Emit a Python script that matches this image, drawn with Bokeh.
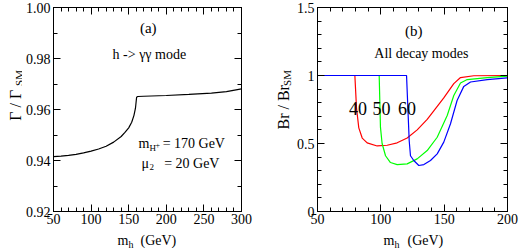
import math
from bokeh.plotting import figure
from bokeh.layouts import row, column
from bokeh.models import (LinearAxis, SingleIntervalTicker, PrintfTickFormatter, Label,
                          CustomJSTickFormatter)
from bokeh.core.properties import value
from bokeh.embed import file_html
from bokeh.resources import INLINE

FONT = "Liberation Serif"

# ---- Panel (a): Gamma / Gamma_SM for h -> gamma gamma ----
mh_a = [50, 60, 70, 80, 90, 100, 110, 120, 130, 140, 145, 150, 154, 157, 159,
        160.5, 162, 170, 200, 230, 260, 280, 300]
ratio_a = [0.9415, 0.9417, 0.9420, 0.9424, 0.9430, 0.9437, 0.9445, 0.9456, 0.9472,
           0.9494, 0.9510, 0.9528, 0.9550, 0.9577, 0.9605, 0.9648, 0.9651, 0.9652,
           0.9655, 0.9659, 0.9664, 0.9670, 0.9681]

# ---- Panel (b): Br / Br_SM, all decay modes (mu_2 = 40, 50, 60) ----
mh_40 = [50, 79.5, 80.8, 82.6, 85.3, 89.2, 97.1, 105, 112.9, 120.8, 128.7, 136.6,
         141.8, 149.7, 157.6, 162.9, 173.4, 200]
br_40 = [1.0, 1.0, 0.76, 0.615, 0.54, 0.505, 0.482, 0.487, 0.505, 0.54, 0.60, 0.677,
         0.74, 0.835, 0.94, 0.985, 0.998, 1.0]

mh_50 = [50, 98.7, 99.7, 101, 103.7, 107.6, 112.9, 120.8, 128.7, 136.6, 144.5,
         152.4, 157.6, 162.9, 168.2, 184, 200]
br_50 = [1.0, 1.0, 0.62, 0.50, 0.41, 0.36, 0.345, 0.35, 0.387, 0.448, 0.546,
         0.706, 0.853, 0.945, 0.97, 0.985, 0.995]

mh_60 = [50, 120.3, 121.3, 122.4, 123.4, 126, 130, 134, 139.2, 144.5, 149.7, 155,
         160.2, 165.5, 170.8, 184, 199.7]
br_60 = [1.0, 1.0, 0.77, 0.52, 0.41, 0.375, 0.338, 0.345, 0.375, 0.424, 0.51, 0.645,
         0.816, 0.92, 0.952, 0.97, 0.982]

mu2_labels = ["40", "50", "60"]
mu2_colors = ["#ff0000", "#00ff00", "#0000ff"]


def style_axes(p, xtick, xminor, ytick, yminor, yfmt=None, overrides=None):
    p.grid.visible = False
    p.outline_line_color = "black"
    p.outline_line_width = 1
    p.background_fill_color = "white"
    p.border_fill_color = "white"
    bottom = p.below[0]
    left = p.left[0]
    bottom.ticker = SingleIntervalTicker(interval=xtick, num_minor_ticks=xminor)
    left.ticker = SingleIntervalTicker(interval=ytick, num_minor_ticks=yminor)
    if yfmt is not None:
        left.formatter = yfmt
    if overrides is not None:
        left.major_label_overrides = overrides
    blank = CustomJSTickFormatter(code="return ''")
    top = LinearAxis(ticker=SingleIntervalTicker(interval=xtick, num_minor_ticks=xminor),
                     formatter=blank)
    right = LinearAxis(ticker=SingleIntervalTicker(interval=ytick, num_minor_ticks=yminor),
                       formatter=blank)
    p.add_layout(top, "above")
    p.add_layout(right, "right")
    for ax in [bottom, left, top, right]:
        ax.major_tick_in = 7
        ax.major_tick_out = 0
        ax.minor_tick_in = 4
        ax.minor_tick_out = 0
        ax.axis_line_color = "black"
        ax.major_tick_line_color = "black"
        ax.minor_tick_line_color = "black"
        ax.major_label_text_font = FONT
        ax.major_label_text_font_size = "14px"
        ax.major_label_text_color = "black"
        ax.major_label_standoff = 4
    bottom.major_label_standoff = 2
    left.major_label_standoff = 3
    for ax in [top, right]:
        ax.major_label_standoff = 0


def add_text(p, x, y, text, size, xo=0, yo=0, align="left", baseline="alphabetic"):
    p.add_layout(Label(x=x, y=y, x_offset=xo, y_offset=yo, text=text,
                       text_font=FONT, text_font_size=size, text_color="black",
                       text_align=align, text_baseline=baseline))


def strip(w, h):
    f = figure(width=w, height=h, x_range=(0, w), y_range=(0, h),
               x_axis_type=None, y_axis_type=None, output_backend="svg",
               toolbar_location=None, min_border=0)
    f.outline_line_color = None
    f.background_fill_color = "white"
    f.border_fill_color = "white"
    return f


def strip_text(f, xs, ys, texts, size, angle=0.0):
    f.text(x=xs, y=ys, text=texts, text_font=value(FONT), text_font_size=size,
           text_color="black", text_align="left", text_baseline="alphabetic",
           angle=angle)


ROW_H = 229

# ---------- figure (a) ----------
p1 = figure(width=248, height=ROW_H, x_range=(50, 300), y_range=(0.92, 1.0),
            output_backend="svg", toolbar_location=None,
            min_border_left=29, min_border_right=29, min_border_top=7,
            min_border_bottom=18)
style_axes(p1, 50, 5, 0.02, 2, yfmt=PrintfTickFormatter(format="%.2f"))
p1.line(mh_a, ratio_a, line_color="black", line_width=1.2)

add_text(p1, 176, 0.992, "(a)", "15px", align="center", baseline="middle")
add_text(p1, 177.5, 0.9816, "h -> \u03b3\u03b3 mode", "14px", align="center", baseline="middle")
add_text(p1, 163, 0.9465, "m", "14px")
add_text(p1, 163, 0.9465, "H", "9px", xo=11, yo=-4)
add_text(p1, 163, 0.9465, "+", "8px", xo=17, yo=-1)
add_text(p1, 278, 0.9465, "= 170 GeV", "14px", align="right")
add_text(p1, 167, 0.9390, "\u03bc", "14px")
add_text(p1, 167, 0.9390, "2", "9px", xo=8, yo=-4)
add_text(p1, 280, 0.9390, "=  20  GeV", "14px", align="right")

# ---------- figure (b) ----------
p2 = figure(width=227, height=ROW_H, x_range=(50, 200), y_range=(0, 1.5),
            output_backend="svg", toolbar_location=None,
            min_border_left=25, min_border_right=12, min_border_top=7,
            min_border_bottom=18)
style_axes(p2, 50, 5, 0.5, 5, overrides={0: "0", 0.5: "0.5", 1: "1", 1.5: "1.5"})
for xs, ys, c in zip([mh_40, mh_50, mh_60], [br_40, br_50, br_60], mu2_colors):
    p2.line(xs, ys, line_color=c, line_width=1.2)

add_text(p2, 126, 1.33, "(b)", "15px", align="center", baseline="middle")
add_text(p2, 132, 1.16, "All decay modes", "14px", align="center", baseline="middle")
for xl, lab in zip([82, 100.5, 120.7], mu2_labels):
    add_text(p2, xl, 0.757, lab, "18px", align="center", baseline="middle")

# ---------- axis titles (real text, with subscripts) ----------
ylab1 = strip(22, ROW_H)
strip_text(ylab1, [15], [102], ["\u0393 / \u0393"], "16px", angle=math.pi / 2)
strip_text(ylab1, [18.5], [141], ["SM"], "11px", angle=math.pi / 2)

ylab2 = strip(22, ROW_H)
strip_text(ylab2, [13], [92], ["Br / Br"], "16px", angle=math.pi / 2)
strip_text(ylab2, [16.5], [141], ["SM"], "11px", angle=math.pi / 2)

xlab = strip(519, 19)
strip_text(xlab, [117, 383], [8, 8], ["m", "m"], "14px")
strip_text(xlab, [128, 394], [4, 4], ["h", "h"], "10px")
strip_text(xlab, [140, 407], [8, 8], ["(GeV)", "(GeV)"], "14px")

layout = column(row(ylab1, p1, ylab2, p2), xlab)

open("out.html", "w").write(file_html(layout, INLINE))
